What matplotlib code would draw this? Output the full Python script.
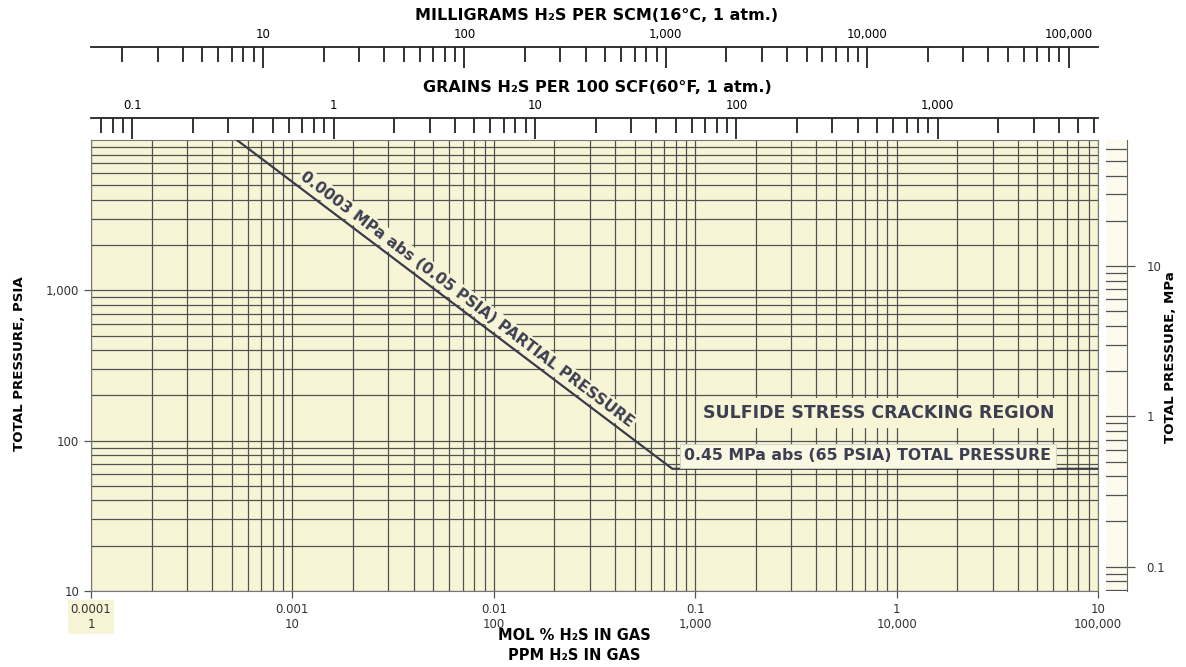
import matplotlib
matplotlib.use('Agg')
import matplotlib.pyplot as plt
from matplotlib.ticker import LogLocator, FixedLocator, FixedFormatter, NullFormatter
import numpy as np

# ---------------- data ----------------
mol_pct_ticks = [0.0001, 0.001, 0.01, 0.1, 1, 10]
mol_pct_labels = ['0.0001', '0.001', '0.01', '0.1', '1', '10']
ppm_labels = ['1', '10', '100', '1,000', '10,000', '100,000']
psia_ticks = [10, 100, 1000]
psia_labels = ['10', '100', '1,000']
mpa_ticks = [0.1, 1, 10]
mpa_labels = ['0.1', '1', '10']
grain_ticks = [0.1, 1, 10, 100, 1000]
grain_labels = ['0.1', '1', '10', '100', '1,000']
mg_ticks = [10, 100, 1000, 10000, 100000]
mg_labels = ['10', '100', '1,000', '10,000', '100,000']

# limit line: 0.05 psia partial pressure, then 65 psia total pressure
line_mol_pct = [0.00053, 0.077, 10]
line_psia = [10000, 65, 65]

xlim = (0.0001, 10)
ylim = (10, 10000)
PPM_PER_MOLPCT = 1e4
PPM_PER_GRAIN = 16.0
MG_PER_PPM = 1.4
MPA_PER_PSIA = 0.006895

# ---------------- style ----------------
YEL = '#f7f5d6'
GRID = '#525252'
TXT = '#3c3e52'
W, H = 1186, 667

fig = plt.figure(figsize=(W / 100, H / 100), dpi=100)
fig.patch.set_facecolor('white')


def box(l, t, r, b):
    return [l / W, 1 - b / H, (r - l) / W, (b - t) / H]


ax = fig.add_axes(box(91, 140, 1098, 591))
ax.set_facecolor(YEL)
ax.set_xscale('log')
ax.set_yscale('log')
ax.set_xlim(xlim)
ax.set_ylim(ylim)
ax.xaxis.set_major_locator(FixedLocator(mol_pct_ticks))
ax.xaxis.set_major_formatter(FixedFormatter([f'{m}\n{p}' for m, p in zip(mol_pct_labels, ppm_labels)]))
ax.xaxis.set_minor_locator(LogLocator(base=10, subs=np.arange(2, 10)))
ax.xaxis.set_minor_formatter(NullFormatter())
ax.yaxis.set_major_locator(FixedLocator(psia_ticks))
ax.yaxis.set_major_formatter(FixedFormatter(psia_labels))
ax.yaxis.set_minor_locator(LogLocator(base=10, subs=np.arange(2, 10)))
ax.yaxis.set_minor_formatter(NullFormatter())
ax.grid(which='both', color=GRID, lw=0.9)
ax.set_axisbelow(True)
ax.tick_params(which='minor', length=0)
ax.tick_params(which='major', direction='out', length=5, width=0.9, color='#555',
               labelsize=8.5, labelcolor='#333')
for s in ax.spines.values():
    s.set_color('#777')
    s.set_linewidth(0.8)
for lab in ax.get_xticklabels()[:1]:
    lab.set_bbox(dict(facecolor=YEL, edgecolor='none', pad=2))

ax.plot(line_mol_pct, line_psia, color='#3a3b4c', lw=1.6, solid_joinstyle='miter', zorder=3)

# rotated label along the sloped line
fig.canvas.draw()
p1 = ax.transData.transform((line_mol_pct[0], line_psia[0]))
p2 = ax.transData.transform((line_mol_pct[1], line_psia[1]))
ang = np.degrees(np.arctan2(p2[1] - p1[1], p2[0] - p1[0]))
xm = 0.0068
ym = line_psia[0] * (xm / line_mol_pct[0]) ** (np.log(line_psia[1] / line_psia[0]) /
                                                 np.log(line_mol_pct[1] / line_mol_pct[0]))
nrm = np.array([np.sin(np.radians(-ang)), np.cos(np.radians(-ang))]) * 8.5
ax.annotate('0.0003 MPa abs (0.05 PSIA) PARTIAL PRESSURE', xy=(xm, ym),
            xytext=(nrm[0], nrm[1]), textcoords='offset points',
            rotation=ang, rotation_mode='anchor', ha='center', va='center',
            fontsize=11.2, fontweight='bold', color=TXT, zorder=4,
            bbox=dict(facecolor=YEL, edgecolor='none', pad=1.5))

ax.text((879 - 91) / 1007, 1 - (413 - 140) / 451, 'SULFIDE STRESS CRACKING REGION',
        transform=ax.transAxes, ha='center', va='center', fontsize=12.5,
        fontweight='bold', color=TXT, zorder=4,
        bbox=dict(facecolor=YEL, edgecolor='none', pad=4))
ax.text((868 - 91) / 1007, 1 - (456 - 140) / 451, '0.45 MPa abs (65 PSIA) TOTAL PRESSURE',
        transform=ax.transAxes, ha='center', va='center', fontsize=11.3,
        fontweight='bold', color=TXT, zorder=4,
        bbox=dict(facecolor='#faf8e2', edgecolor='#d0d0c0', lw=0.6, pad=3))

# bottom / left axis titles
fig.text(574 / W, 1 - 636 / H, 'MOL % H₂S IN GAS', ha='center', va='center',
         fontsize=10.5, fontweight='bold')
fig.text(574 / W, 1 - 656 / H, 'PPM H₂S IN GAS', ha='center', va='center',
         fontsize=10.5, fontweight='bold')
fig.text(20 / W, 1 - 364 / H, 'TOTAL PRESSURE, PSIA', rotation=90, ha='center',
         va='center', fontsize=9.6, fontweight='bold')
fig.text(1171 / W, 1 - 357 / H, 'TOTAL PRESSURE, MPa', rotation=90, ha='center',
         va='center', fontsize=9.6, fontweight='bold')

# right MPa strip
axr = fig.add_axes(box(1106, 140, 1127, 591))
axr.set_facecolor('#fcfbee')
axr.set_yscale('log')
axr.set_ylim(ylim[0] * MPA_PER_PSIA, ylim[1] * MPA_PER_PSIA)
axr.set_xticks([])
axr.yaxis.tick_right()
axr.yaxis.set_major_locator(FixedLocator(mpa_ticks))
axr.yaxis.set_major_formatter(FixedFormatter(mpa_labels))
axr.yaxis.set_minor_locator(LogLocator(base=10, subs=np.arange(2, 10)))
axr.yaxis.set_minor_formatter(NullFormatter())
axr.grid(which='both', axis='y', color=GRID, lw=0.9)
axr.tick_params(which='minor', length=0)
axr.tick_params(which='major', direction='out', length=6, width=0.9, color='#555',
                labelsize=8.5, labelcolor='#333', pad=8)
for k, s in axr.spines.items():
    s.set_visible(k == 'right')
axr.spines['right'].set_color('#666')


def top_scale(ybase, lo, hi, ticks, labels, title):
    a = fig.add_axes(box(91, ybase, 1098, ybase + 20))
    a.patch.set_alpha(0)
    a.set_xscale('log')
    a.set_xlim(lo, hi)
    a.set_yticks([])
    a.xaxis.tick_top()
    a.xaxis.set_major_locator(FixedLocator(ticks))
    a.xaxis.set_major_formatter(FixedFormatter(labels))
    a.xaxis.set_minor_locator(LogLocator(base=10, subs=np.arange(2, 10)))
    a.xaxis.set_minor_formatter(NullFormatter())
    a.tick_params(which='major', direction='in', length=15, width=1.3, color='#222',
                  labelsize=8.5, pad=4)
    a.tick_params(which='minor', direction='in', length=11, width=1.3, color='#222')
    for k, s in a.spines.items():
        s.set_visible(k == 'top')
    a.spines['top'].set_linewidth(1.3)
    a.spines['top'].set_color('#222')
    fig.text(597 / W, 1 - (ybase - 31) / H, title, ha='center', va='center',
             fontsize=11.5, fontweight='bold')
    return a


top_scale(47, xlim[0] * PPM_PER_MOLPCT * MG_PER_PPM, xlim[1] * PPM_PER_MOLPCT * MG_PER_PPM,
          mg_ticks, mg_labels, 'MILLIGRAMS H₂S PER SCM(16°C, 1 atm.)')
top_scale(118, xlim[0] * PPM_PER_MOLPCT / PPM_PER_GRAIN, xlim[1] * PPM_PER_MOLPCT / PPM_PER_GRAIN,
          grain_ticks, grain_labels, 'GRAINS H₂S PER 100 SCF(60°F, 1 atm.)')

fig.savefig('out.png', dpi=100, facecolor='white')
